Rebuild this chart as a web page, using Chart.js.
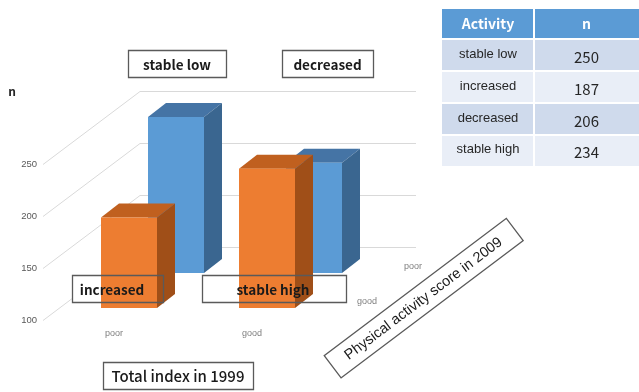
<!DOCTYPE html>
<html>
<head>
<meta charset="utf-8">
<script src="https://cdn.jsdelivr.net/npm/chart.js@4"></script>
<style>
  html, body { margin: 0; padding: 0; background: #fff; }
</style>
</head>
<body>
<canvas id="myChart" width="639" height="392"></canvas>
<script>
	// counts per activity group
	var activityNames = ['stable low', 'increased', 'decreased', 'stable high'];
	var activityCounts = [250, 187, 206, 234];

	// x axis: total index in 1999, depth axis: activity score in 2009 (front row first)
	var index1999 = ['poor', 'good'];
	var score2009 = ['good', 'poor'];

	// bar heights taken from the table above
	var score2009Good = [activityCounts[1], activityCounts[3]]; // increased, stable high
	var score2009Poor = [activityCounts[0], activityCounts[2]]; // stable low, decreased

	var yTicks = [100, 150, 200, 250];

	// 3d look
	var rowShift = { x : 47, y : -35 };   // back row offset
	var barDepth = { x : 18, y : -14 };
	var wallDepth = { x : 97, y : -73 };

	var faces = [
		{ front : '#ED7D31', top : '#C0601F', side : '#A04F18' },
		{ front : '#5B9BD5', top : '#4574A5', side : '#3A6690' }
	];

	var boxFont = 'bold 13.5px "Noto Sans CJK JP", "Noto Sans", sans-serif';

	function box(ctx, x, y, w, h, fill) {
		ctx.beginPath();
		ctx.rect(x + 0.5, y + 0.5, w, h);
		if (fill) {
			ctx.fillStyle = '#fff';
			ctx.fill();
		} else {
			ctx.strokeStyle = '#5a5a5a';
			ctx.lineWidth = 1.3;
			ctx.stroke();
		}
	}

	function poly(ctx, pts, color) {
		ctx.beginPath();
		ctx.moveTo(pts[0][0], pts[0][1]);
		for (var i = 1; i < pts.length; i++) ctx.lineTo(pts[i][0], pts[i][1]);
		ctx.closePath();
		ctx.fillStyle = color;
		ctx.fill();
	}

	var labelBoxes = [
		{ text : 'stable low', x : 128, y : 50, w : 98, h : 27 },
		{ text : 'decreased', x : 282, y : 50, w : 91, h : 27 },
		{ text : 'increased', x : 72, y : 275, w : 91, h : 27, tx : 112 },
		{ text : 'stable high', x : 202, y : 275, w : 144, h : 27, tx : 273 }
	];

	var bars3d = {
		id : 'bars3d',
		beforeDatasetsDraw : function(chart) {
			var ctx = chart.ctx;
			var yScale = chart.scales.y;
			var xScale = chart.scales.x;
			var x0 = 43;

			ctx.save();
			// side and back wall gridlines
			ctx.strokeStyle = '#d9d9d9';
			ctx.lineWidth = 1;
			yTicks.forEach(function(v) {
				var y0 = Math.round(yScale.getPixelForValue(v)) + 12.5;
				ctx.beginPath();
				ctx.moveTo(x0, y0);
				ctx.lineTo(x0 + wallDepth.x, y0 + wallDepth.y);
				ctx.lineTo(416, y0 + wallDepth.y);
				ctx.stroke();

				ctx.fillStyle = '#595959';
				ctx.font = '9.5px "Liberation Sans", Arial, sans-serif';
				ctx.textAlign = 'right';
				ctx.textBaseline = 'middle';
				ctx.fillText(String(v), 37, y0);
			});

			// white backs of the lower boxes
			labelBoxes.forEach(function(b) {
				if (b.y > 200) box(ctx, b.x, b.y, b.w, b.h, true);
			});

			// bars, back row first
			for (var r = chart.data.datasets.length - 1; r >= 0; r--) {
				var meta = chart.getDatasetMeta(r);
				var sx = r === 1 ? rowShift.x : 0;
				var sy = r === 1 ? rowShift.y : 0;
				var f = faces[r];
				meta.data.forEach(function(el) {
					var p = el.getProps([ 'x', 'y', 'base', 'width' ], true);
					var l = p.x - p.width / 2 + sx, rt = p.x + p.width / 2 + sx;
					var t = p.y + sy, b = p.base + sy;
					poly(ctx, [ [ l, t ], [ l + barDepth.x, t + barDepth.y ], [ rt + barDepth.x, t + barDepth.y ], [ rt, t ] ], f.top);
					poly(ctx, [ [ rt, t ], [ rt + barDepth.x, t + barDepth.y ], [ rt + barDepth.x, b + barDepth.y ], [ rt, b ] ], f.side);
					ctx.fillStyle = f.front;
					ctx.fillRect(l, t, rt - l, b - t);
				});
			}

			// category labels on the floor
			ctx.fillStyle = '#7f7f7f';
			ctx.font = '9px "Liberation Sans", Arial, sans-serif';
			ctx.textAlign = 'center';
			ctx.textBaseline = 'middle';
			index1999.forEach(function(c, i) {
				ctx.fillText(c, xScale.getPixelForValue(i) - 15, 334);
			});
			ctx.textAlign = 'left';
			score2009.forEach(function(c, r) {
				var base = yScale.getPixelForValue(100) + (r === 1 ? rowShift.y : 0);
				ctx.fillText(c, xScale.right + 21 + (r === 1 ? rowShift.x : 0), base - 6);
			});
			ctx.restore();
			return false;
		},
		afterDraw : function(chart) {
			var ctx = chart.ctx;
			ctx.save();
			ctx.textBaseline = 'middle';
			ctx.textAlign = 'center';

			// y axis title
			ctx.fillStyle = '#262626';
			ctx.font = 'bold 12px "Noto Sans CJK JP", "Noto Sans", sans-serif';
			ctx.fillText('n', 12, 91);

			ctx.font = boxFont;
			labelBoxes.forEach(function(b) {
				box(ctx, b.x, b.y, b.w, b.h, false);
				ctx.fillStyle = '#1a1a1a';
				ctx.fillText(b.text, b.tx || b.x + b.w / 2, b.y + b.h / 2 + 1);
			});

			// axis titles
			box(ctx, 103, 362, 150, 27, true);
			box(ctx, 103, 362, 150, 27, false);
			ctx.fillStyle = '#1a1a1a';
			ctx.font = '500 15px "Noto Sans CJK JP", "Noto Sans", sans-serif';
			ctx.fillText('Total index in 1999', 178, 376);

			ctx.save();
			ctx.translate(423, 298);
			ctx.rotate(-37 * Math.PI / 180);
			box(ctx, -114, -14, 228, 28, false);
			ctx.font = '14.5px "Liberation Sans", Arial, sans-serif';
			ctx.fillText('Physical activity score in 2009', 0, 1);
			ctx.restore();

			// count table
			var tx = 442, colW = [ 92, 105 ];
			var rowY = [ 9, 39, 71, 103, 135, 166 ];
			ctx.fillStyle = '#5B9BD5';
			ctx.fillRect(tx, rowY[0], colW[0] + colW[1], rowY[1] - rowY[0]);
			ctx.fillStyle = '#fff';
			ctx.font = 'bold 14px "Noto Sans CJK JP", "Noto Sans", sans-serif';
			ctx.fillText('Activity', tx + colW[0] / 2, 24);
			ctx.fillText('n', tx + colW[0] + colW[1] / 2, 24);
			for (var i = 0; i < activityNames.length; i++) {
				var y0 = rowY[i + 1], h = rowY[i + 2] - y0;
				ctx.fillStyle = i % 2 === 0 ? '#CFDAEC' : '#E9EEF7';
				ctx.fillRect(tx, y0, colW[0] + colW[1], h);
				ctx.fillStyle = '#262626';
				ctx.font = '13px "Liberation Sans", Arial, sans-serif';
				ctx.fillText(activityNames[i], tx + colW[0] / 2, y0 + h / 2 - 1);
				ctx.font = '15px "Noto Sans CJK JP", "Noto Sans", sans-serif';
				ctx.fillText(String(activityCounts[i]), tx + colW[0] + colW[1] / 2, y0 + h / 2 + 2);
			}
			// white cell borders
			ctx.strokeStyle = '#fff';
			ctx.lineWidth = 2;
			ctx.beginPath();
			for (var j = 1; j < rowY.length - 1; j++) {
				ctx.moveTo(tx, rowY[j]);
				ctx.lineTo(tx + colW[0] + colW[1], rowY[j]);
			}
			ctx.moveTo(tx + colW[0], rowY[0]);
			ctx.lineTo(tx + colW[0], rowY[rowY.length - 1]);
			ctx.stroke();
			ctx.restore();
		}
	};

	const data1 = {
		labels : index1999,
		datasets : [ {
			label : score2009[0],
			data : score2009Good,
			backgroundColor : faces[0].front,
		}, {
			label : score2009[1],
			data : score2009Poor,
			backgroundColor : faces[1].front,
		} ]
	};

	const config = {
		type : 'bar',
		data : data1,
		options : {
			responsive : false,
			animation : false,
			layout : {
				padding : { left : 60, right : 303, top : 100, bottom : 84 }
			},
			datasets : {
				bar : { grouped : false, barThickness : 56, base : 100 }
			},
			plugins : {
				legend : { display : false },
				tooltip : { enabled : false },
			},
			scales : {
				x : { display : false, offset : true },
				y : { display : false, min : 100, max : 300 },
			},
		},
		plugins : [ bars3d ],
	};

	var myChart = new Chart(document.getElementById('myChart'), config);
</script>
</body>
</html>
